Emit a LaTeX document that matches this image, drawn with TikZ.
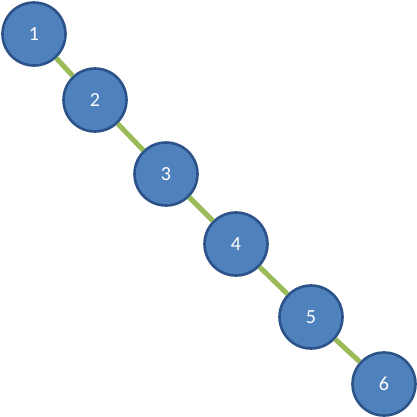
\documentclass[tikz,border=0pt]{standalone}
\usepackage{fontspec}
\setmainfont{Carlito}
\usepackage{tikz}
\definecolor{nodefill}{HTML}{4F81BD}
\definecolor{nodeline}{HTML}{2C5389}
\definecolor{edgegreen}{HTML}{9BBB59}

\begin{document}
\begin{tikzpicture}[
  x=1pt,y=-1pt,
  treenode/.style={circle,draw=nodeline,fill=nodefill,line width=2.6pt,
    minimum size=63pt,inner sep=0pt,text=white,font=\fontsize{20}{24}\selectfont},
  edge/.style={edgegreen,line width=5pt}
]
\useasboundingbox (0,0) rectangle (417,416);

% ---- the chain of nodes ----
\foreach \n/\x/\y in {1/34/34,2/95/100,3/166/174,4/236/244,5/311/317,6/384/384}
  \node[treenode] (n\n) at (\x,\y) {\n};

% ---- links between neighbours ----
\foreach \a/\b in {1/2,2/3,3/4,4/5,5/6}
  \draw[edge] (n\a) -- (n\b);
\end{tikzpicture}
\end{document}
